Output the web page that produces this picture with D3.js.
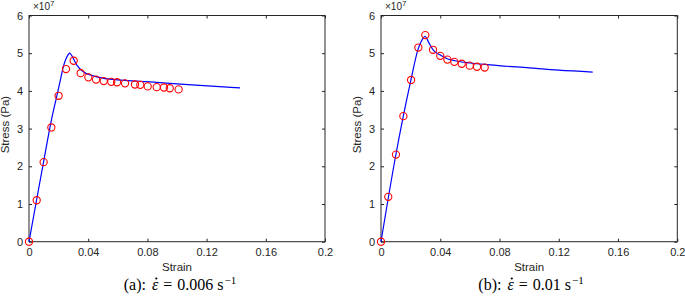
<!DOCTYPE html>
<html>
<head>
<meta charset="utf-8">
<script src="https://cdn.jsdelivr.net/npm/d3@7"></script>
<style>
  html, body { margin: 0; padding: 0; background: #fff; }
  svg { display: block; }
  .tick text { font-family: "Liberation Sans", Arial, sans-serif; font-size: 11px; fill: #262626; }
</style>
</head>
<body>
<svg id="chart" width="685" height="297"></svg>
<script>
// ---- data (stress in units of 1e7 Pa) ----
const xTicks = [0, 0.04, 0.08, 0.12, 0.16, 0.2];
const xTickLabels = ["0", "0.04", "0.08", "0.12", "0.16", "0.2"];
const yTicks = [0, 1, 2, 3, 4, 5, 6];
const captions = ["(a):", "(b):"];
const rates = ["0.006", "0.01"];

const expStrainA = [0, 0.0052, 0.0099, 0.0151, 0.0200, 0.0250, 0.0302, 0.0349, 0.0401, 0.0453, 0.0505, 0.0556, 0.0595, 0.0649, 0.0716, 0.0752, 0.0802, 0.0863, 0.0912, 0.0951, 0.1011];
const expStressA = [0, 1.10, 2.11, 3.03, 3.87, 4.58, 4.80, 4.47, 4.36, 4.30, 4.26, 4.24, 4.23, 4.20, 4.17, 4.16, 4.12, 4.10, 4.09, 4.07, 4.04];
const fitStrainA = [0, 0.005, 0.010, 0.015, 0.0187, 0.021, 0.0232, 0.025, 0.0265, 0.0275, 0.029, 0.0322, 0.0367, 0.0435, 0.0547, 0.0818, 0.11, 0.1426];
const fitStressA = [0, 1.08, 2.15, 3.2, 3.85, 4.25, 4.64, 4.85, 4.96, 5.0, 4.93, 4.69, 4.51, 4.40, 4.31, 4.24, 4.16, 4.08];

const expStrainB = [0, 0.0049, 0.0101, 0.0151, 0.0203, 0.0252, 0.0299, 0.0351, 0.0400, 0.0448, 0.0495, 0.0545, 0.0599, 0.0648, 0.0700];
const expStressB = [0, 1.19, 2.31, 3.33, 4.29, 5.15, 5.48, 5.09, 4.93, 4.83, 4.77, 4.72, 4.67, 4.64, 4.62];
const fitStrainB = [0, 0.010, 0.020, 0.025, 0.0285, 0.0297, 0.032, 0.0353, 0.040, 0.0443, 0.050, 0.060, 0.0736, 0.100, 0.120, 0.1429];
const fitStressB = [0, 2.3, 4.25, 5.1, 5.4, 5.45, 5.3, 5.08, 4.95, 4.86, 4.80, 4.74, 4.69, 4.61, 4.55, 4.50];

const panels = [
  { left: 29, right: 325, capX: 180, expX: expStrainA, expY: expStressA, fitX: fitStrainA, fitY: fitStressA, cap: captions[0], rate: rates[0] },
  { left: 381, right: 677.3, capX: 531, expX: expStrainB, expY: expStressB, fitX: fitStrainB, fitY: fitStressB, cap: captions[1], rate: rates[1] }
];

const plotTop = 15.5, plotBottom = 241.7;
const axisColor = "#262626";
const svg = d3.select("#chart");

panels.forEach(p => {
  const x = d3.scaleLinear().domain([0, 0.2]).range([p.left, p.right]);
  const y = d3.scaleLinear().domain([0, 6]).range([plotBottom, plotTop]);
  const g = svg.append("g");
  const tk = 3;

  // box
  g.append("rect").attr("x", p.left).attr("y", plotTop)
    .attr("width", p.right - p.left).attr("height", plotBottom - plotTop)
    .attr("fill", "none").attr("stroke", axisColor).attr("stroke-width", 1);

  // bottom axis
  const xb = g.append("g").attr("transform", `translate(0,${plotBottom})`)
    .call(d3.axisBottom(x).tickValues(xTicks).tickFormat((d, i) => xTickLabels[i]).tickSizeInner(-tk).tickSizeOuter(0).tickPadding(7));
  xb.select(".domain").remove();
  xb.selectAll("line").attr("stroke", axisColor);
  // top ticks
  const xt = g.append("g").attr("transform", `translate(0,${plotTop})`)
    .call(d3.axisTop(x).tickValues(xTicks).tickFormat("").tickSizeInner(-tk).tickSizeOuter(0));
  xt.select(".domain").remove();
  xt.selectAll("line").attr("stroke", axisColor);
  // left axis
  const yl = g.append("g").attr("transform", `translate(${p.left},0)`)
    .call(d3.axisLeft(y).tickValues(yTicks).tickFormat(d3.format("d")).tickSizeInner(-tk).tickSizeOuter(0).tickPadding(6));
  yl.select(".domain").remove();
  yl.selectAll("line").attr("stroke", axisColor);
  // right ticks
  const yr = g.append("g").attr("transform", `translate(${p.right},0)`)
    .call(d3.axisRight(y).tickValues(yTicks).tickFormat("").tickSizeInner(-tk).tickSizeOuter(0));
  yr.select(".domain").remove();
  yr.selectAll("line").attr("stroke", axisColor);

  // exponent label
  const ex = g.append("text").attr("x", p.left + 4).attr("y", 10)
    .attr("font-family", "Liberation Sans, Arial, sans-serif").attr("font-size", 10).attr("fill", axisColor);
  ex.append("tspan").text("\u00d710");
  ex.append("tspan").attr("dy", -4).attr("font-size", 8).text("7");

  // fit line
  const fitData = p.fitX.map((v, i) => [v, p.fitY[i]]);
  g.append("path").datum(fitData)
    .attr("fill", "none").attr("stroke", "#0000ff").attr("stroke-width", 1.2)
    .attr("d", d3.line().x(d => x(d[0])).y(d => y(d[1])).curve(d3.curveMonotoneX));

  // experimental circles
  const expData = p.expX.map((v, i) => [v, p.expY[i]]);
  g.selectAll("circle.exp").data(expData).enter().append("circle")
    .attr("class", "exp")
    .attr("cx", d => x(d[0])).attr("cy", d => y(d[1])).attr("r", 3.6)
    .attr("fill", "none").attr("stroke", "#ff0000").attr("stroke-width", 1.1);

  // axis labels
  g.append("text").attr("x", (p.left + p.right) / 2).attr("y", 271)
    .attr("text-anchor", "middle").attr("font-family", "Liberation Sans, Arial, sans-serif")
    .attr("font-size", 11.5).attr("fill", axisColor).text("Strain");
  g.append("text")
    .attr("transform", `translate(${p.left - 20},${(plotTop + plotBottom) / 2 - 4}) rotate(-90)`)
    .attr("text-anchor", "middle").attr("font-family", "Liberation Sans, Arial, sans-serif")
    .attr("font-size", 11.5).attr("fill", axisColor).text("Stress (Pa)");

  // caption
  const capBase = 290;
  const cap = g.append("text").attr("x", p.capX).attr("y", capBase)
    .attr("text-anchor", "middle").attr("font-family", "Liberation Serif, 'DejaVu Serif', serif")
    .attr("font-size", 16).attr("fill", "#000");
  cap.append("tspan").text(p.cap);
  cap.append("tspan").attr("dx", 6).attr("font-style", "italic").text("\u03b5");
  cap.append("tspan").attr("dx", 5).text("=");
  cap.append("tspan").attr("dx", 5).text(p.rate);
  cap.append("tspan").attr("dx", 4).text("s");
  cap.append("tspan").attr("dy", -6).attr("dx", 1).attr("font-size", 11).text("\u22121");
  // dot accent above epsilon
  const tnode = cap.node();
  const idx = p.cap.length;
  const s0 = tnode.getStartPositionOfChar(idx).x;
  const e0 = tnode.getEndPositionOfChar(idx).x;
  g.append("circle").attr("cx", (s0 + e0) / 2 + 1.2).attr("cy", capBase - 11.5)
    .attr("r", 1.1).attr("fill", "#000");
});
</script>
</body>
</html>
